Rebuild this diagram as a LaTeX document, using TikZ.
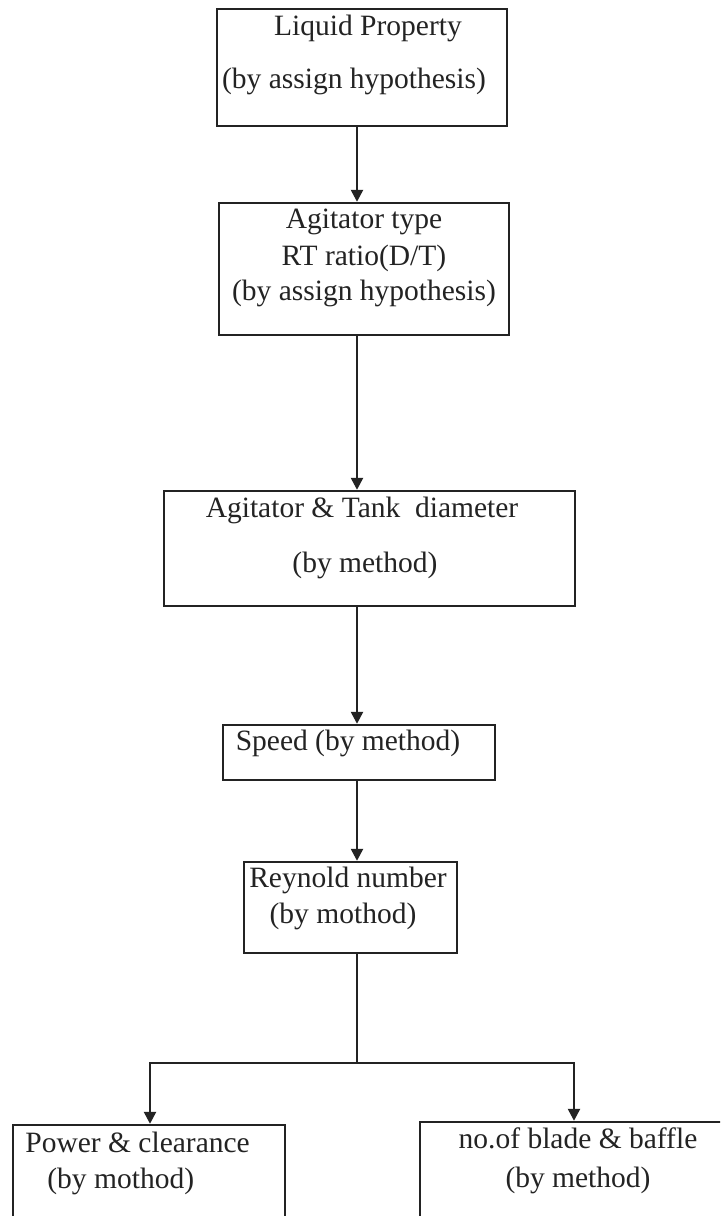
\documentclass[tikz,border=0pt]{standalone}
\usepackage{fontspec}
\setmainfont{Liberation Serif}
\usetikzlibrary{fit,arrows.meta}
\definecolor{ink}{RGB}{35,35,35}
\begin{document}
\begin{tikzpicture}[x=0.5pt,y=-0.5pt,
  box/.style={draw=ink,line width=1.2pt,rectangle,inner sep=0pt},
  txt/.style={text=ink,inner sep=0pt,text height=0.75em,text depth=0.25em,font=\fontsize{14.75pt}{17pt}\selectfont},
  arr/.style={draw=ink,line width=1.2pt,-{Triangle[length=6pt,width=6pt]}},
  ln/.style={draw=ink,line width=1.2pt}]
\clip (0,0) rectangle (720,1216);
\fill[white] (0,0) rectangle (720,1216);
\coordinate (ax) at (357,0);
% boxes
\node[box,fit={(217,9) (507,126)}] (b1) {};
\node[box,fit={(219,203) (509,335)}] (b2) {};
\node[box,fit={(164,491) (575,606)}] (b3) {};
\node[box,fit={(223,725) (495,780)}] (b4) {};
\node[box,fit={(244,862) (457,953)}] (b5) {};
\node[box,fit={(13,1125) (285,1240)}] (b6) {};
\node[box,fit={(420,1122) (730,1240)}] (b7) {};
% texts
\node[txt] (t1a) at (368,30) {Liquid Property};
\node[txt] (t1b) at (354,83) {(by assign hypothesis)};
\node[txt] (t2a) at (364,223) {Agitator type};
\node[txt] (t2b) at (364,260) {RT ratio(D/T)};
\node[txt] (t2c) at (364,295) {(by assign hypothesis)};
\node[txt] (t3a) at (362,512) {Agitator \& Tank\ \ diameter};
\node[txt] (t3b) at (365,567) {(by method)};
\node[txt] (t4) at (348,745) {Speed (by method)};
\node[txt] (t5a) at (348,882) {Reynold number};
\node[txt] (t5b) at (343,918) {(by mothod)};
\node[txt,anchor=west] (t6a) at (25,1147) {Power \& clearance};
\node[txt,anchor=west] (t6b) at (47,1183) {(by mothod)};
\node[txt] (t7a) at (578,1143) {no.of blade \& baffle};
\node[txt] (t7b) at (578,1182) {(by method)};
% connectors
\draw[arr] (b1.south -| ax) -- (b2.north -| ax);
\draw[arr] (b2.south -| ax) -- (b3.north -| ax);
\draw[arr] (b3.south -| ax) -- (b4.north -| ax);
\draw[arr] (b4.south -| ax) -- (b5.north -| ax);
\coordinate (j) at (357,1063);
\coordinate (jl) at (150,1063);
\coordinate (jr) at (574,1063);
\draw[ln] (b5.south -| ax) -- (j);
\draw[arr] (j) -- (jl) -- (jl |- b6.north);
\draw[arr] (j) -- (jr) -- (jr |- b7.north);
\end{tikzpicture}
\end{document}
